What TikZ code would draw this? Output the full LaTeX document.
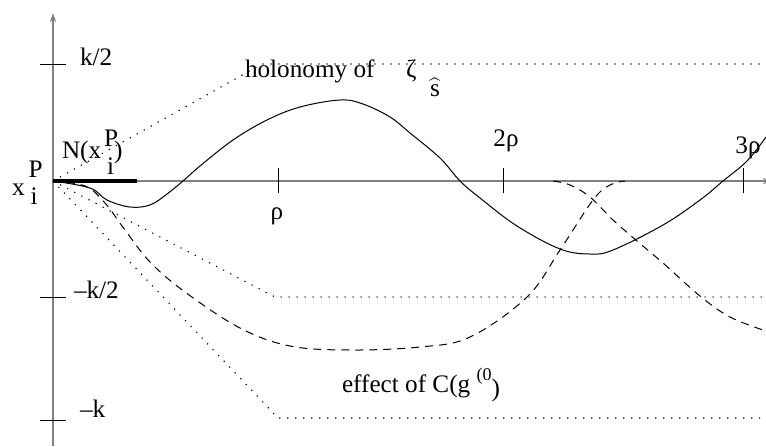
\documentclass[tikz,border=0pt]{standalone}
\usepackage{fontspec}
\setmainfont{Liberation Serif}
\usetikzlibrary{arrows.meta}
\tikzset{hpx/.style={x=0.5pt,y=-0.5pt,every node/.style={inner sep=0pt,outer sep=0pt}}}
\definecolor{traco}{HTML}{000000}
\definecolor{eixocor}{HTML}{808080}
\tikzset{
  eixo/.style={draw=eixocor,line width=0.9pt,-{Stealth[length=4.5pt,width=3pt]}},
  marca/.style={draw=traco,line width=0.5pt},
  curva/.style={draw=traco,line width=0.5pt},
  pont/.style={draw=traco,line width=0.55pt,dash pattern=on 0.6pt off 3.4pt},
  trac/.style={draw=traco,line width=0.5pt,dash pattern=on 4pt off 3pt},
  grosso/.style={draw=traco,line width=2pt},
  rot/.style={font=\fontsize{12.6}{14}\selectfont,text=traco,anchor=base west},
}

\begin{document}
\begin{tikzpicture}[hpx]
  \useasboundingbox (0,0) rectangle (766,446);
  \coordinate (o) at (53,181);
  \coordinate (topo) at (53,13);
  \coordinate (base) at (53,446);
  \coordinate (fim) at (772,181);
  % eixos e marcas
  \draw[eixo] (base) -- (topo);
  \draw[eixo] (o) -- (fim);
  \foreach \y in {64,297,420}
    \draw[marca] (40,\y) -- (66,\y);
  \foreach \x in {278,503,743}
    \draw[marca] (\x,168) -- (\x,193);
  % envelopes pontilhados
  \draw[pont] (o) -- (262,64) -- (766,64);
  \draw[pont] (o) -- (275,297) -- (766,297);
  \draw[pont] (o) -- (278,418) -- (760,418);
  \draw[grosso] (o) -- (137,181);
  % curva principal
  \draw[curva] plot[smooth,tension=0.6] coordinates {(53,181) (90,188) (107,200) (130,207) (150,205)
    (167,194) (183,181) (200,166) (233,140) (267,120) (300,107) (340,100) (363,104) (390,117)
    (410,133) (440,158) (460,181) (480,198) (517,226) (560,249) (590,254) (613,250) (663,225)
    (700,200) (723,181) (747,161) (766,137)};
  % efeito de C(g)
  \draw[trac] plot[smooth,tension=0.6] coordinates {(53,181) (85,186) (105,203) (125,230) (150,262)
    (185,292) (240,328) (290,346) (350,350) (420,347) (470,337) (527,297) (560,250) (593,200)
    (610,185) (625,181)};
  \draw[trac] plot[smooth,tension=0.6] coordinates {(553,181) (570,185) (590,197) (613,220)
    (637,241) (663,263) (700,296) (730,317) (766,331)};
  % rotulos
  \node[rot] (kmeio) at (80,65) {k/2};
  \node[rot] (menoskmeio) at (74,298) {–k/2};
  \node[rot] (menosk) at (80,417) {–k};
  \node[rot] (xip) at (12,195) {x\kern2pt\rlap{\raisebox{9pt}{P}}\kern1pt\raisebox{-4.5pt}{i}};
  \node[rot] (viz) at (62,158) {N(x\kern1.5pt\rlap{\raisebox{6pt}{P}}\kern1.5pt\raisebox{-8pt}{i})};
  \node[rot,anchor=base] (rho1) at (277,219) {ρ};
  \node[rot,anchor=base] (rho2) at (506,146) {2ρ};
  \node[rot,anchor=base] (rho3) at (748,153) {3ρ};
  \node[rot] (hol) at (245,77) {holonomy of};
  \node[rot] (zeta) at (406,77) {ζ};
  \node[rot] (shat) at (430,96) {$\widehat{\mbox{s}}$};
  \node[rot] (efeito) at (342,392) {effect of C(g \raisebox{6pt}{\fontsize{9}{10}\selectfont(0}\raisebox{-2pt}{)}};
\end{tikzpicture}
\end{document}
